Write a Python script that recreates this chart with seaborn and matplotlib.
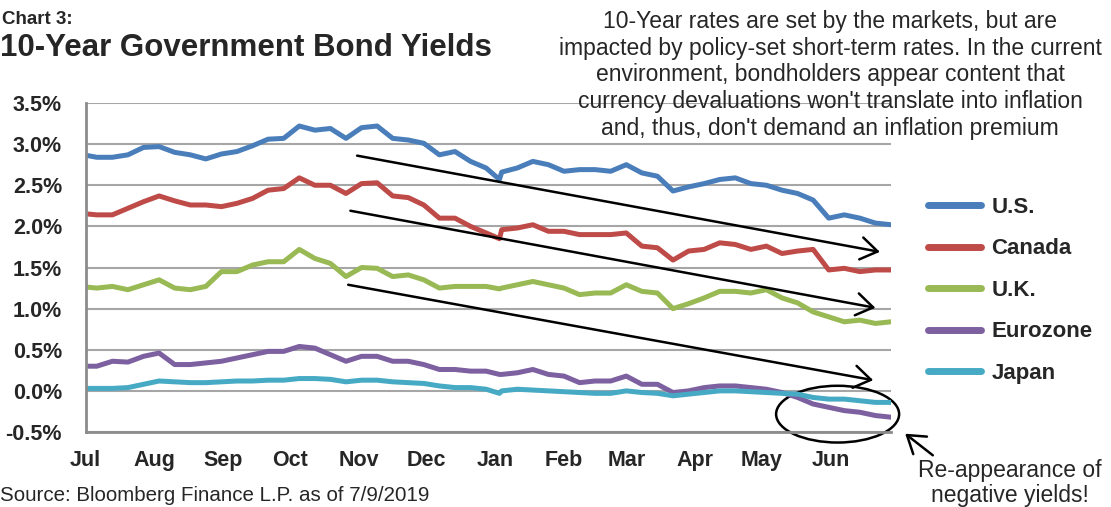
import numpy as np
import pandas as pd
import matplotlib
matplotlib.use('Agg')
import matplotlib.pyplot as plt
import matplotlib.dates as mdates
from matplotlib.ticker import FuncFormatter
from matplotlib.patches import Ellipse, FancyArrowPatch
import seaborn as sns

# dates: first trading day, weekly Fridays, plus the Jan 3 dip
fridays = pd.date_range('2018-07-06', '2019-06-28', freq='W-FRI')
dates = [pd.Timestamp('2018-07-02')] + list(fridays[:26]) + [pd.Timestamp('2019-01-03')] + list(fridays[26:])

# 10-year yields (%)
us = [2.86, 2.84, 2.84, 2.87, 2.96, 2.97, 2.90, 2.87, 2.82, 2.88, 2.91, 2.98, 3.06, 3.07,
      3.22, 3.17, 3.19, 3.07, 3.20, 3.22, 3.07, 3.05, 3.01, 2.87, 2.91, 2.79, 2.71,
      2.57,
      2.66, 2.71, 2.79, 2.75, 2.67, 2.69, 2.69, 2.67, 2.75, 2.65, 2.61, 2.43, 2.48,
      2.52, 2.57, 2.59, 2.52, 2.50, 2.44, 2.40, 2.32, 2.10, 2.14, 2.10, 2.04, 2.02]
canada = [2.15, 2.14, 2.14, 2.22, 2.30, 2.37, 2.31, 2.26, 2.26, 2.24, 2.28, 2.34, 2.44, 2.46,
          2.59, 2.50, 2.50, 2.40, 2.52, 2.53, 2.37, 2.35, 2.26, 2.10, 2.10, 2.00, 1.92,
          1.85,
          1.96, 1.98, 2.02, 1.94, 1.94, 1.90, 1.90, 1.90, 1.92, 1.76, 1.74, 1.59, 1.70,
          1.72, 1.80, 1.78, 1.72, 1.76, 1.67, 1.70, 1.72, 1.47, 1.49, 1.45, 1.47, 1.47]
uk = [1.26, 1.25, 1.27, 1.23, 1.29, 1.35, 1.25, 1.23, 1.27, 1.45, 1.45, 1.53, 1.57, 1.57,
      1.72, 1.61, 1.55, 1.39, 1.50, 1.49, 1.39, 1.41, 1.35, 1.25, 1.27, 1.27, 1.27,
      1.24,
      1.25, 1.29, 1.33, 1.29, 1.25, 1.17, 1.19, 1.19, 1.29, 1.21, 1.19, 1.00, 1.06,
      1.13, 1.21, 1.21, 1.19, 1.23, 1.13, 1.07, 0.96, 0.90, 0.84, 0.86, 0.82, 0.84]
eurozone = [0.30, 0.30, 0.36, 0.35, 0.42, 0.46, 0.32, 0.32, 0.34, 0.36, 0.40, 0.44, 0.48, 0.48,
            0.54, 0.52, 0.44, 0.36, 0.42, 0.42, 0.36, 0.36, 0.32, 0.26, 0.26, 0.24, 0.24,
            0.20,
            0.20, 0.22, 0.26, 0.20, 0.18, 0.10, 0.12, 0.12, 0.18, 0.08, 0.08, -0.02, 0.00,
            0.04, 0.06, 0.06, 0.04, 0.02, -0.02, -0.08, -0.16, -0.20, -0.24, -0.26, -0.30, -0.32]
japan = [0.03, 0.03, 0.03, 0.04, 0.08, 0.12, 0.11, 0.10, 0.10, 0.11, 0.12, 0.12, 0.13, 0.13,
         0.15, 0.15, 0.14, 0.11, 0.13, 0.13, 0.11, 0.10, 0.09, 0.06, 0.04, 0.04, 0.02,
         -0.03,
         0.00, 0.02, 0.01, 0.00, -0.01, -0.02, -0.03, -0.03, 0.00, -0.02, -0.03, -0.06, -0.04,
         -0.02, 0.00, 0.00, -0.01, -0.02, -0.03, -0.04, -0.08, -0.10, -0.10, -0.12, -0.14, -0.14]

countries = ['U.S.', 'Canada', 'U.K.', 'Eurozone', 'Japan']
colors = ['#4A7EBB', '#BE4B48', '#98B954', '#7D60A0', '#46AAC5']
yticks = [-0.5, 0.0, 0.5, 1.0, 1.5, 2.0, 2.5, 3.0, 3.5]

frames = []
for name, vals in zip(countries, [us, canada, uk, eurozone, japan]):
    frames.append(pd.DataFrame({'date': dates, 'yield': vals, 'country': name}))
df = pd.concat(frames, ignore_index=True)

sns.set_style('white')
plt.rcParams['font.family'] = ['Liberation Sans', 'DejaVu Sans']

W, H = 1111, 507
fig = plt.figure(figsize=(W / 100, H / 100), dpi=100)
ax = fig.add_axes([85.7 / W, 1 - 432 / H, (891 - 85.7) / W, (432 - 103) / H])

sns.lineplot(data=df, x='date', y='yield', hue='country', hue_order=countries,
             palette=colors, linewidth=3.6, ax=ax, legend=True)

ax.set_ylim(-0.5, 3.5)
ax.set_xlim(pd.Timestamp('2018-07-01'), pd.Timestamp('2019-06-28'))
ax.set_yticks(yticks)
ax.yaxis.set_major_formatter(FuncFormatter(lambda v, p: f'{v:.1f}%'))
ax.xaxis.set_major_locator(mdates.MonthLocator())
ax.xaxis.set_major_formatter(mdates.DateFormatter('%b'))
ax.set_xlabel('')
ax.set_ylabel('')

ax.grid(axis='y', color='#A6A6A6', linewidth=1.5)
ax.set_axisbelow(True)
for s in ['top', 'right']:
    ax.spines[s].set_visible(False)
for s in ['left', 'bottom']:
    ax.spines[s].set_color('#8C8C8C')
    ax.spines[s].set_linewidth(2)
ax.tick_params(axis='both', length=6, width=1.5, color='#8C8C8C', direction='out')
ax.tick_params(axis='y', pad=11, labelsize=15.5)
ax.tick_params(axis='x', pad=7, labelsize=15.5)
for lab in ax.get_xticklabels() + ax.get_yticklabels():
    lab.set_fontweight('bold')

# legend on the right
leg = ax.legend(loc='upper left', bbox_to_anchor=(928 / W, 1 - 197 / H),
                bbox_transform=fig.transFigure, frameon=False, borderpad=0,
                borderaxespad=0, handlelength=2.4, handletextpad=0.45,
                labelspacing=0.92, prop={'weight': 'bold', 'size': 16})
for line in leg.get_lines():
    line.set_linewidth(5)

# trend arrows
d = mdates.date2num
arrows = [(('2018-10-31', 2.86), ('2019-06-23', 1.69)),
          (('2018-10-28', 2.19), ('2019-06-21', 1.01)),
          (('2018-10-27', 1.29), ('2019-06-20', 0.13))]
for (x0, y0), (x1, y1) in arrows:
    ax.annotate('', xy=(d(pd.Timestamp(x1)), y1), xytext=(d(pd.Timestamp(x0)), y0),
                arrowprops=dict(arrowstyle='->,head_length=0.6,head_width=0.4',
                                color='black', lw=1.8, mutation_scale=20,
                                shrinkA=0, shrinkB=0))

ell = Ellipse((d(pd.Timestamp('2019-06-04')), -0.283), width=55.3, height=0.69,
              fill=False, ec='black', lw=1.8, clip_on=False)
ax.add_patch(ell)

fig.text(0.002, 1 - 20 / H, 'Chart 3:', fontsize=13.5, weight='bold', va='center')
fig.text(0.0, 1 - 48 / H, '10-Year Government Bond Yields', fontsize=22.5,
         weight='bold', va='center')

note = ("10-Year rates are set by the markets, but are\n"
        "impacted by policy-set short-term rates. In the current\n"
        "environment, bondholders appear content that\n"
        "currency devaluations won't translate into inflation\n"
        "and, thus, don't demand an inflation premium")
fig.text(830 / W, 1 - 75 / H, note, ha='center', va='center', fontsize=16.5,
         linespacing=1.2)

fig.text(1010 / W, 1 - 483 / H, 'Re-appearance of\nnegative yields!', ha='center',
         va='center', fontsize=16.5, linespacing=1.12)
fig.patches.append(FancyArrowPatch(
    (935 / W, 1 - 457 / H), (903 / W, 1 - 432 / H), transform=fig.transFigure,
    arrowstyle='->,head_length=0.6,head_width=0.4', mutation_scale=20,
    color='black', lw=1.8))

fig.text(0.0, 0.004, 'Source: Bloomberg Finance L.P. as of 7/9/2019', fontsize=14.8,
         va='bottom')

fig.savefig('out.png', dpi=100)
